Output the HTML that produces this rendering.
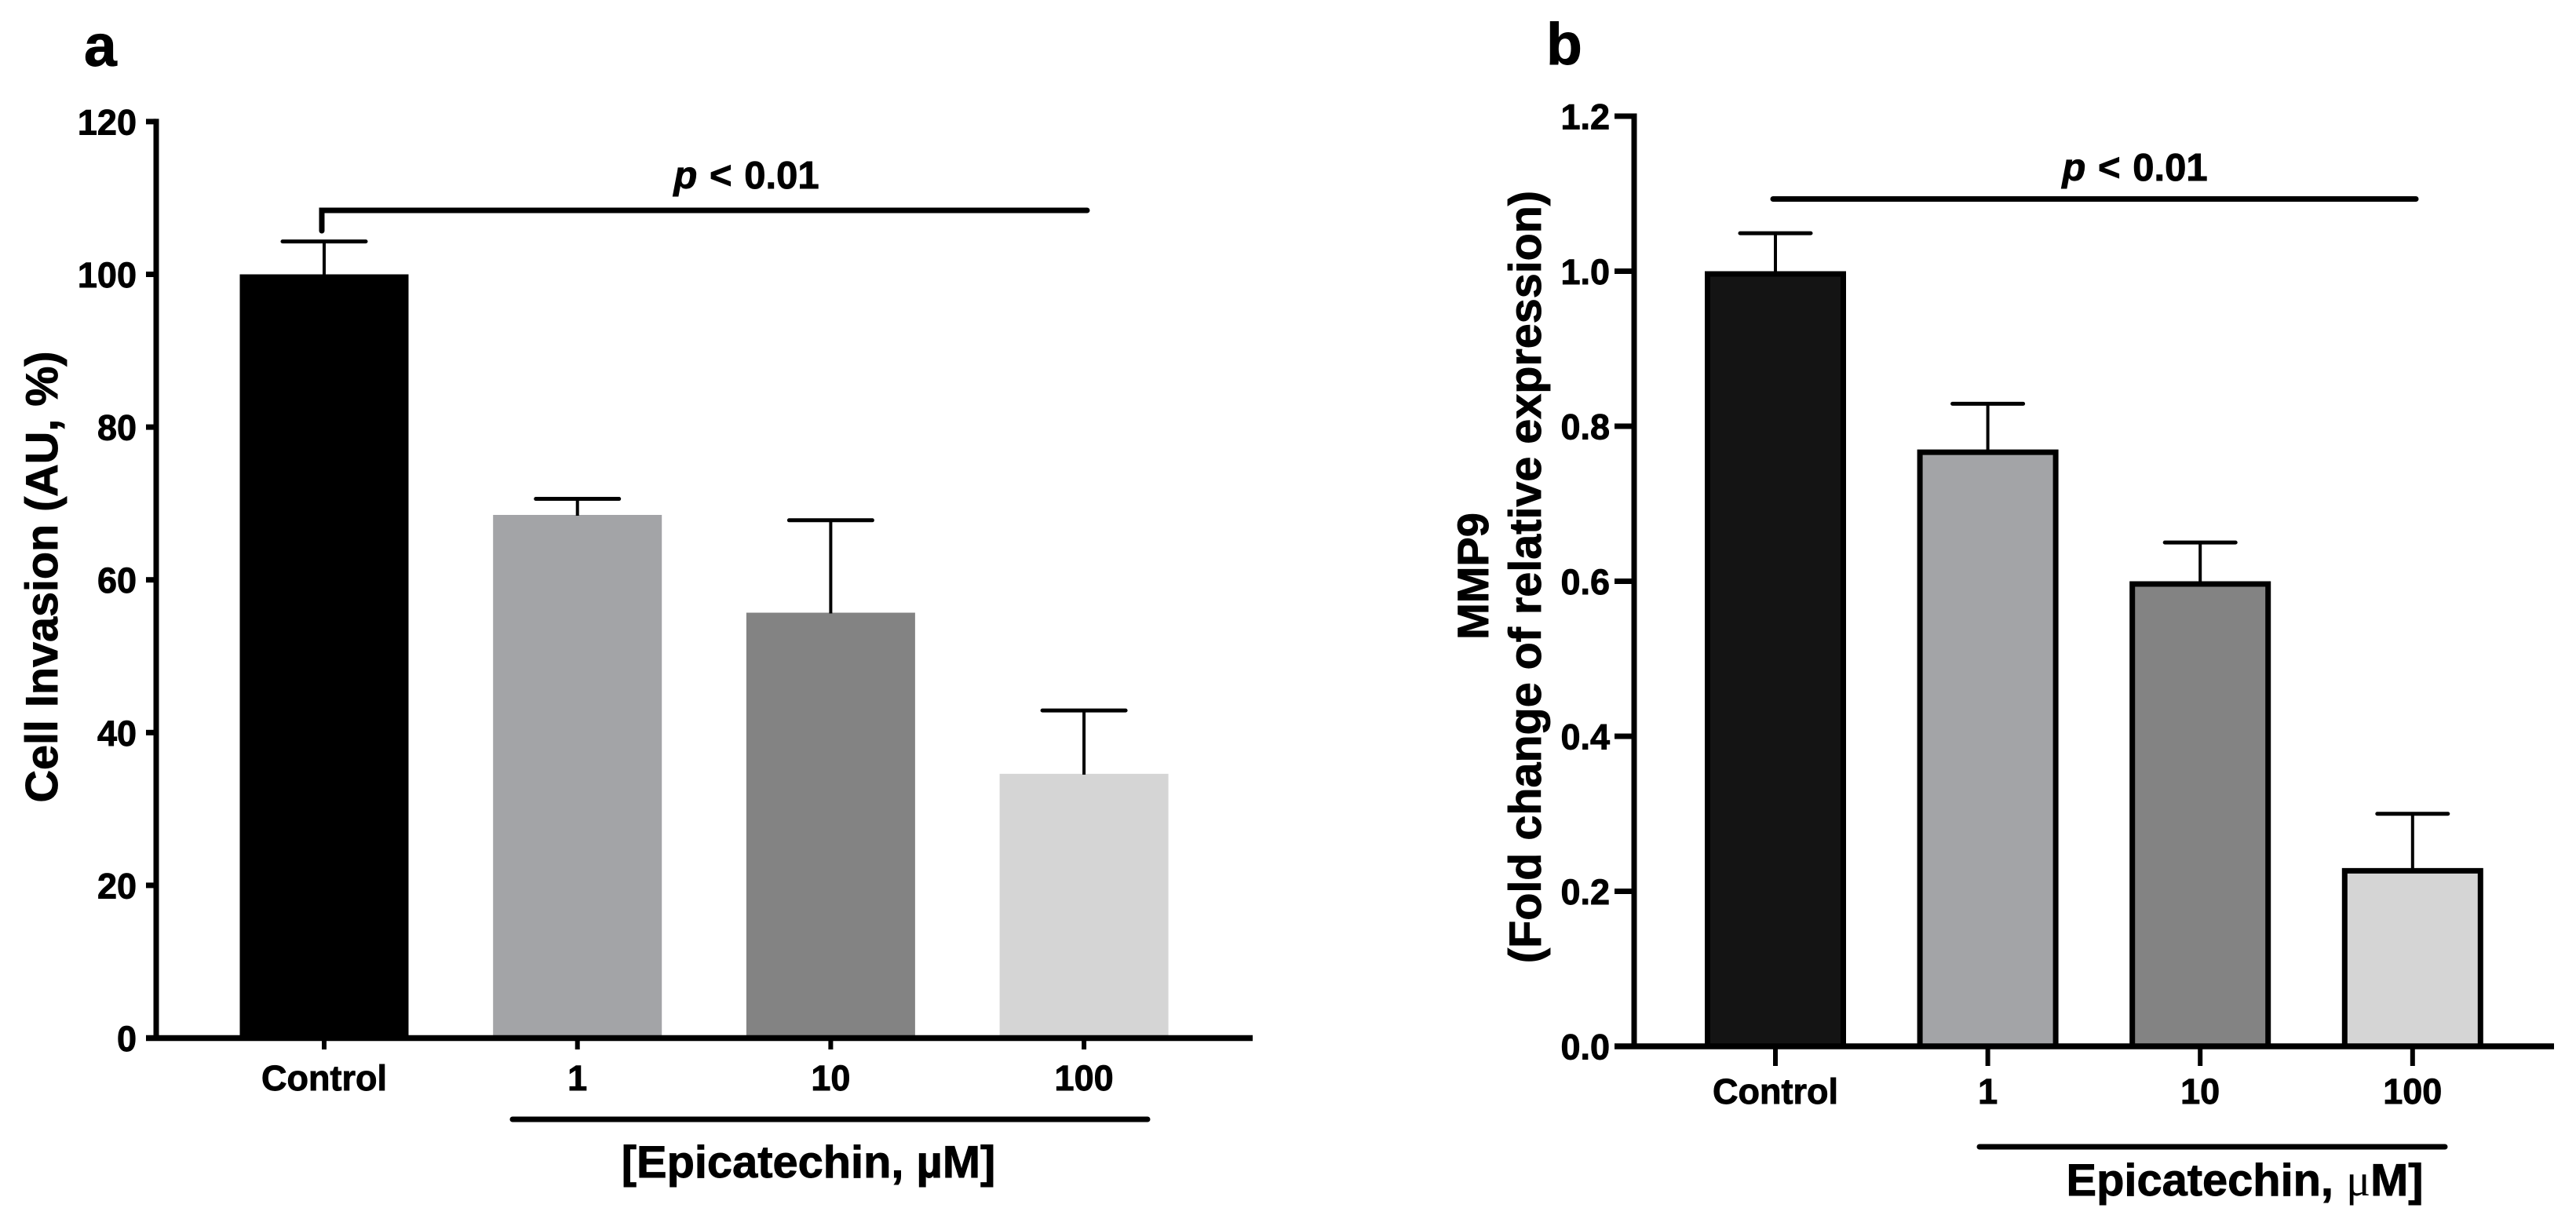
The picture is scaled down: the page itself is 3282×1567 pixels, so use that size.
<!DOCTYPE html>
<html lang="en">
<head>
<meta charset="utf-8">
<title>Cell invasion and MMP9 expression versus epicatechin</title>
<style>
html,body{margin:0;padding:0;background:#fff;}
body{width:3282px;height:1567px;overflow:hidden;}
svg{display:block;}
text{font-family:"Liberation Sans",Arial,sans-serif;font-weight:700;fill:#000;stroke:#000;stroke-width:0.9px;}
</style>
</head>
<body>
<svg id="figure" xmlns="http://www.w3.org/2000/svg" width="3282" height="1567" viewBox="0 0 3282 1567">
  <rect x="0" y="0" width="3282" height="1567" fill="#fff"/>

  <text x="107" y="84" font-size="75">a</text>
  <text x="1970" y="82" font-size="75">b</text>

  <text transform="translate(73 735) rotate(-90)" text-anchor="middle" font-size="57.5">Cell Invasion (AU, %)</text>
  <text transform="translate(1896 734) rotate(-90)" text-anchor="middle" font-size="56">MMP9</text>
  <text transform="translate(1963 735) rotate(-90)" text-anchor="middle" font-size="57.5">(Fold change of relative expression)</text>

  <g id="panel-a"></g>
  <g id="panel-b"></g>

  <path d="M410 294 L410 268 L1385 268" fill="none" stroke="#000" stroke-width="7" stroke-linecap="round" stroke-linejoin="miter"/>
  <text x="951" y="240" text-anchor="middle" font-size="49" word-spacing="2"><tspan font-style="italic">p</tspan> &lt; 0.01</text>

  <line x1="2259" y1="253.5" x2="3078" y2="253.5" stroke="#000" stroke-width="7" stroke-linecap="round"/>
  <text x="2720" y="230" text-anchor="middle" font-size="49" word-spacing="2"><tspan font-style="italic">p</tspan> &lt; 0.01</text>

  <line x1="653" y1="1426" x2="1462" y2="1426" stroke="#000" stroke-width="7" stroke-linecap="round"/>
  <text x="1030" y="1500" text-anchor="middle" font-size="57.8">[Epicatechin, µM]</text>

  <line x1="2522" y1="1461" x2="3115" y2="1461" stroke="#000" stroke-width="7" stroke-linecap="round"/>
  <text x="2860" y="1523" text-anchor="middle" font-size="57.8">Epicatechin, <tspan font-family="'Liberation Serif',serif" font-weight="400" stroke="none">μ</tspan>M]</text>
</svg>

<script>
// Shared categories
const categories = ['Control', '1', '10', '100'];

// Panel a data
const invasionValues = [100, 68.5, 55.7, 34.6];
const invasionErrors = [4.3, 2.1, 12.1, 8.3];
const invasionTicks = [0, 20, 40, 60, 80, 100, 120];
const invasionTickLabels = ['0', '20', '40', '60', '80', '100', '120'];

// Panel b data
const mmp9Values = [1.0, 0.77, 0.6, 0.23];
const mmp9Errors = [0.049, 0.059, 0.05, 0.07];
const mmp9Ticks = [0, 0.2, 0.4, 0.6, 0.8, 1.0, 1.2];
const mmp9TickLabels = ['0.0', '0.2', '0.4', '0.6', '0.8', '1.0', '1.2'];

// Bar styling
const fillsA = ['#000000', '#a3a4a7', '#838383', '#d5d5d5'];
const fillsB = ['#141414', '#a3a4a7', '#838383', '#d5d5d5'];

const SVG_NS = 'http://www.w3.org/2000/svg';

function make(tag, attrs, parent) {
  const el = document.createElementNS(SVG_NS, tag);
  for (const k in attrs) el.setAttribute(k, attrs[k]);
  parent.appendChild(el);
  return el;
}

function drawPanel(o) {
  const root = document.getElementById(o.id);
  const barsCount = o.values.length;

  // Bars
  for (let i = 0; i < barsCount; i++) {
    const cx = o.x(i);
    const top = o.y(o.values[i]);
    const inset = o.barStroke / 2;
    const bar = make('rect', {
      x: cx - o.barWidth / 2 + inset,
      y: top + inset,
      width: o.barWidth - o.barStroke,
      height: o.y(0) - top - inset,
      fill: o.fills[i],
      stroke: o.barStroke ? '#000' : 'none',
      'stroke-width': o.barStroke
    }, root);
    
    

    // Error bar
    const capY = o.y(o.values[i] + o.errors[i]);
    const stem = make('line', {
      x1: cx, x2: cx, y1: top + 1, y2: capY,
      stroke: '#000', 'stroke-width': 4
    }, root);
    
    

    const cap = make('line', {
      x1: cx - o.capWidth / 2 + 2, x2: cx + o.capWidth / 2 - 2, y1: capY, y2: capY,
      stroke: '#000', 'stroke-width': 5, 'stroke-linecap': 'round'
    }, root);
    
    

    // X tick and label
    const xTick = make('line', {
      x1: cx, x2: cx, y1: o.y(0), y2: o.xTickEnd,
      stroke: '#000', 'stroke-width': 6
    }, root);
    
    

    const xLabel = make('text', {
      x: cx, y: o.xLabelY, 'text-anchor': 'middle', 'font-size': 45
    }, root);
    xLabel.textContent = categories[i];
    
    
  }

  // Y ticks and labels
  for (let i = 0; i < o.ticks.length; i++) {
    const ty = o.y(o.ticks[i]);
    const yTick = make('line', {
      x1: o.tickStart, x2: o.axisX, y1: ty, y2: ty,
      stroke: '#000', 'stroke-width': 7
    }, root);
    
    

    const yLabel = make('text', {
      x: o.labelRight, y: ty + 16.5, 'text-anchor': 'end', 'font-size': 45
    }, root);
    yLabel.textContent = o.tickLabels[i];
    
    
  }

  // Axes
  const topTick = o.ticks[o.ticks.length - 1];
  const yAxis = make('line', {
    x1: o.axisX, x2: o.axisX, y1: o.y(topTick) - 3.5, y2: o.y(0) + 3.5,
    stroke: '#000', 'stroke-width': 7
  }, root);
  
  

  const xAxis = make('line', {
    x1: o.tickStart, x2: o.xAxisEnd, y1: o.y(0), y2: o.y(0),
    stroke: '#000', 'stroke-width': 7.5
  }, root);
  
  
}

drawPanel({
  id: 'panel-a',
  prefix: 'panel-a',
  values: invasionValues,
  errors: invasionErrors,
  ticks: invasionTicks,
  tickLabels: invasionTickLabels,
  fills: fillsA,
  x: function (i) { return 413 + i * 322.7; },
  y: function (v) { return 1322.5 - v * 9.73; },
  barWidth: 215,
  barStroke: 0,
  capWidth: 110,
  axisX: 199,
  tickStart: 186,
  labelRight: 174,
  xAxisEnd: 1596,
  xTickEnd: 1337,
  xLabelY: 1389
});

drawPanel({
  id: 'panel-b',
  prefix: 'panel-b',
  values: mmp9Values,
  errors: mmp9Errors,
  ticks: mmp9Ticks,
  tickLabels: mmp9TickLabels,
  fills: fillsB,
  x: function (i) { return 2262 + i * 270.6; },
  y: function (v) { return 1333 - v * 987.5; },
  barWidth: 180,
  barStroke: 7,
  capWidth: 94,
  axisX: 2082,
  tickStart: 2057,
  labelRight: 2051,
  xAxisEnd: 3254,
  xTickEnd: 1358,
  xLabelY: 1406
});
</script>
</body>
</html>
